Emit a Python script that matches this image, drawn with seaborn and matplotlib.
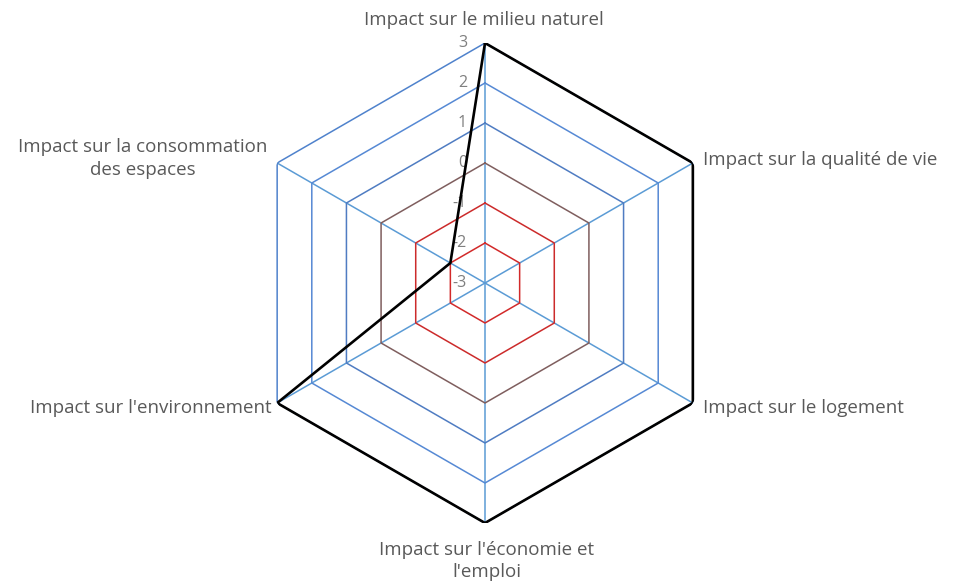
import numpy as np
import matplotlib
matplotlib.use("Agg")
import matplotlib.pyplot as plt
import seaborn as sns

categories = [
    "Impact sur le milieu naturel",
    "Impact sur la qualité de vie",
    "Impact sur le logement",
    "Impact sur l'économie et\nl'emploi",
    "Impact sur l'environnement",
    "Impact sur la consommation\ndes espaces",
]
values = [3, 3, 3, 3, 3, -2]
levels = [-3, -2, -1, 0, 1, 2, 3]
level_colors = {-2: "#d22a2a", -1: "#cc2b2b", 0: "#7f5e5e",
                1: "#4f7cc2", 2: "#5689d4", 3: "#4f82cc"}

sns.set_theme(style="white")
plt.rcParams["font.family"] = ["Open Sans", "DejaVu Sans"]
text_color = "#595959"

fig = plt.figure(figsize=(9.59, 5.83), dpi=100)
ax = fig.add_axes([245 / 959, 60 / 583, 480 / 959, 480 / 583], projection="polar")
ax.set_theta_offset(np.pi / 2)
ax.set_theta_direction(-1)
ax.set_ylim(-3, 3)
ax.grid(False)
ax.spines["polar"].set_visible(False)
ax.set_xticks([])
ax.set_yticks([])
ax.patch.set_alpha(0)

n = len(categories)
theta = np.arange(n) * 2 * np.pi / n
theta_closed = np.append(theta, theta[0])

# spokes
for t in theta:
    ax.plot([t, t], [-3, 3], color="#5b9bd5", lw=1.1, zorder=1)

# hexagonal rings
for lv in levels[1:]:
    ax.plot(theta_closed, [lv] * (n + 1), color=level_colors[lv], lw=1.1, zorder=2)

# series
sns.lineplot(x=list(theta_closed), y=values + [values[0]], ax=ax, sort=False,
             color="black", linewidth=1.9, zorder=5, estimator=None)
ax.set_ylim(-3, 3)
ax.set_xlabel("")
ax.set_ylabel("")

# radial tick labels along the top spoke
for lv in levels:
    ax.annotate(str(lv), xy=(0, lv), xytext=(-13, 0), textcoords="offset points",
                ha="right", va="center", fontsize=11.5, color="#7f7f7f", zorder=3)

# category labels (offsets in points from each outer vertex)
placements = [
    ((-0.7, 16.8), "center"),
    ((7.2, 2.2), "left"),
    ((7.2, -3.6), "left"),
    ((1.4, -27.5), "center"),
    ((-4.3, -3.6), "right"),
    ((-96.5, 3.2), "center"),
]
for t, lab, (off, ha) in zip(theta, categories, placements):
    ax.annotate(lab, xy=(t, 3), xytext=off, textcoords="offset points",
                ha=ha, va="center", fontsize=13.5, color=text_color,
                multialignment="center", linespacing=1.3)

fig.savefig("out.png", dpi=100)
